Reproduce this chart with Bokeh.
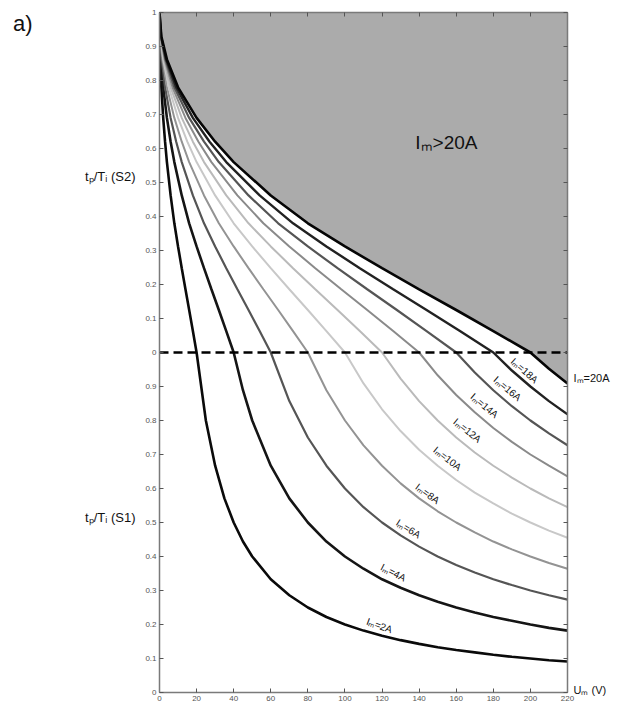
from bokeh.plotting import figure
from bokeh.models import Range1d, LinearAxis, FixedTicker, Label, ColumnDataSource
from bokeh.core.properties import value
from bokeh.embed import file_html
from bokeh.resources import INLINE

# ---------------- data ----------------
# combined y scale: 0..1 = tp/Ti (S1), 1..2 = tp/Ti (S2) shifted by 1
currents = ["2A", "4A", "6A", "8A", "10A", "12A", "14A", "16A", "18A", "20A"]

x_2A = [0, 0.1, 0.4, 1, 2, 3, 4, 6, 8, 10, 12, 14, 16, 18, 20,
        25, 30, 35, 40, 45, 50, 60, 70, 80, 90, 100, 110, 120, 130, 140, 150, 160, 170, 180,
        190, 200, 210, 220]
y_2A = [2.0, 1.929, 1.862, 1.78, 1.69, 1.62, 1.56, 1.462, 1.38, 1.312, 1.248, 1.186, 1.125, 1.063, 1.0,
        0.8, 0.667, 0.571, 0.5, 0.444, 0.4, 0.333, 0.286, 0.25, 0.222, 0.2, 0.182, 0.167, 0.154,
        0.143, 0.133, 0.125, 0.118, 0.111, 0.105, 0.1, 0.095, 0.091]

x_4A = [0, 0.2, 0.8, 2, 4, 6, 8, 12, 16, 20, 24, 28, 32, 36, 40,
        45, 50, 60, 70, 80, 90, 100, 110, 120, 130, 140, 150, 160, 170, 180, 190, 200, 210, 220]
y_4A = [2.0, 1.929, 1.862, 1.78, 1.69, 1.62, 1.56, 1.462, 1.38, 1.312, 1.248, 1.186, 1.125, 1.063, 1.0,
        0.889, 0.8, 0.667, 0.571, 0.5, 0.444, 0.4, 0.364, 0.333, 0.308, 0.286, 0.267, 0.25, 0.235,
        0.222, 0.211, 0.2, 0.19, 0.182]

x_6A = [0, 0.3, 1.2, 3, 6, 9, 12, 18, 24, 30, 36, 42, 48, 54, 60,
        70, 80, 90, 100, 110, 120, 130, 140, 150, 160, 170, 180, 190, 200, 210, 220]
y_6A = [2.0, 1.929, 1.862, 1.78, 1.69, 1.62, 1.56, 1.462, 1.38, 1.312, 1.248, 1.186, 1.125, 1.063, 1.0,
        0.857, 0.75, 0.667, 0.6, 0.545, 0.5, 0.462, 0.429, 0.4, 0.375, 0.353, 0.333, 0.316, 0.3,
        0.286, 0.273]

x_8A = [0, 0.4, 1.6, 4, 8, 12, 16, 24, 32, 40, 48, 56, 64, 72, 80,
        90, 100, 110, 120, 130, 140, 150, 160, 170, 180, 190, 200, 210, 220]
y_8A = [2.0, 1.929, 1.862, 1.78, 1.69, 1.62, 1.56, 1.462, 1.38, 1.312, 1.248, 1.186, 1.125, 1.063, 1.0,
        0.889, 0.8, 0.727, 0.667, 0.615, 0.571, 0.533, 0.5, 0.471, 0.444, 0.421, 0.4, 0.381, 0.364]

x_10A = [0, 0.5, 2, 5, 10, 15, 20, 30, 40, 50, 60, 70, 80, 90, 100,
         110, 120, 130, 140, 150, 160, 170, 180, 190, 200, 210, 220]
y_10A = [2.0, 1.929, 1.862, 1.78, 1.69, 1.62, 1.56, 1.462, 1.38, 1.312, 1.248, 1.186, 1.125, 1.063, 1.0,
         0.909, 0.833, 0.769, 0.714, 0.667, 0.625, 0.588, 0.556, 0.526, 0.5, 0.476, 0.455]

x_12A = [0, 0.6, 2.4, 6, 12, 18, 24, 36, 48, 60, 72, 84, 96, 108, 120,
         130, 140, 150, 160, 170, 180, 190, 200, 210, 220]
y_12A = [2.0, 1.929, 1.862, 1.78, 1.69, 1.62, 1.56, 1.462, 1.38, 1.312, 1.248, 1.186, 1.125, 1.063, 1.0,
         0.923, 0.857, 0.8, 0.75, 0.706, 0.667, 0.632, 0.6, 0.571, 0.545]

x_14A = [0, 0.7, 2.8, 7, 14, 21, 28, 42, 56, 70, 84, 98, 112, 126, 140,
         150, 160, 170, 180, 190, 200, 210, 220]
y_14A = [2.0, 1.929, 1.862, 1.78, 1.69, 1.62, 1.56, 1.462, 1.38, 1.312, 1.248, 1.186, 1.125, 1.063, 1.0,
         0.933, 0.875, 0.824, 0.778, 0.737, 0.7, 0.667, 0.636]

x_16A = [0, 0.8, 3.2, 8, 16, 24, 32, 48, 64, 80, 96, 112, 128, 144, 160,
         170, 180, 190, 200, 210, 220]
y_16A = [2.0, 1.929, 1.862, 1.78, 1.69, 1.62, 1.56, 1.462, 1.38, 1.312, 1.248, 1.186, 1.125, 1.063, 1.0,
         0.941, 0.889, 0.842, 0.8, 0.762, 0.727]

x_18A = [0, 0.9, 3.6, 9, 18, 27, 36, 54, 72, 90, 108, 126, 144, 162, 180,
         190, 200, 210, 220]
y_18A = [2.0, 1.929, 1.862, 1.78, 1.69, 1.62, 1.56, 1.462, 1.38, 1.312, 1.248, 1.186, 1.125, 1.063, 1.0,
         0.947, 0.9, 0.857, 0.818]

x_20A = [0, 1, 4, 10, 20, 30, 40, 60, 80, 100, 120, 140, 160, 180, 200,
         210, 220]
y_20A = [2.0, 1.929, 1.862, 1.78, 1.69, 1.62, 1.56, 1.462, 1.38, 1.312, 1.248, 1.186, 1.125, 1.063, 1.0,
         0.952, 0.909]

x_ticks = [0, 20, 40, 60, 80, 100, 120, 140, 160, 180, 200, 220]
y_tick_values = [0.0, 0.1, 0.2, 0.3, 0.4, 0.5, 0.6, 0.7, 0.8, 0.9, 1.0,
                 1.1, 1.2, 1.3, 1.4, 1.5, 1.6, 1.7, 1.8, 1.9, 2.0]
y_tick_labels = ["0", "0.1", "0.2", "0.3", "0.4", "0.5", "0.6", "0.7", "0.8", "0.9", "0",
                 "0.1", "0.2", "0.3", "0.4", "0.5", "0.6", "0.7", "0.8", "0.9", "1"]

u_min, u_max = 0, 220
y_min, y_max = 0, 2.0
boundary_level = 1.0   # S1 / S2 separation

# curve labels
lab_text = ["Iₘ=2A", "Iₘ=4A", "Iₘ=6A", "Iₘ=8A", "Iₘ=10A", "Iₘ=12A", "Iₘ=14A", "Iₘ=16A", "Iₘ=18A"]
lab_x = [118.6, 126.1, 134.2, 144.5, 155.3, 166.0, 175.2, 187.6, 196.8]
lab_y = [0.197, 0.353, 0.482, 0.585, 0.688, 0.771, 0.844, 0.894, 0.947]
lab_angle = [-20, -27, -32, -36, -38, -39, -40, -40, -41]

# texts outside the plotting frame, placed as single-tick axis labels
side_left_pos = [1.518, 0.515]
side_left_text = ["tₚ/Tᵢ (S2)", "tₚ/Tᵢ (S1)"]
panel_pos = [1.968]
panel_text = ["a)"]
side_right_pos = [0.924, 0.006]
side_right_text = ["Iₘ=20A", "Uₘ (V)"]

# ---------------- styling ----------------
curve_x = [x_2A, x_4A, x_6A, x_8A, x_10A, x_12A, x_14A, x_16A, x_18A, x_20A]
curve_y = [y_2A, y_4A, y_6A, y_8A, y_10A, y_12A, y_14A, y_16A, y_18A, y_20A]
colors = ["#0a0a0a", "#151515", "#555555", "#939393", "#c8c8c8", "#bababa", "#8a8a8a",
          "#555555", "#222222", "#050505"]
widths = [2.6, 2.6, 2.2, 2.0, 2.0, 2.0, 2.0, 2.2, 2.4, 2.6]

FONT = "Liberation Sans"

p = figure(width=622, height=707, x_range=Range1d(u_min, u_max), y_range=Range1d(y_min, y_max),
           output_backend="svg", toolbar_location=None, title=None,
           min_border_left=159, min_border_right=55, min_border_top=12, min_border_bottom=15)
p.xgrid.visible = False
p.ygrid.visible = False
p.outline_line_color = None
p.background_fill_color = "white"
p.border_fill_color = "white"

# shaded region Im > 20A
p.patch(x_20A + [u_max, u_min], y_20A + [y_max, y_max], fill_color="#ababab",
        line_color=None)

for xs, ys, c, w in zip(curve_x, curve_y, colors, widths):
    p.line(xs, ys, line_color=c, line_width=w)

p.line([u_min, u_max], [boundary_level, boundary_level], line_color="black", line_width=2.5,
       line_dash="9 5")

src = ColumnDataSource(dict(x=lab_x, y=lab_y, text=lab_text, angle=lab_angle))
p.text(x="x", y="y", text="text", angle="angle", angle_units="deg", source=src,
       text_align="center", text_baseline="middle", text_font=value(FONT),
       text_font_size="10px", text_color="#111111")

p.add_layout(Label(x=154.7, y=1.618, text="Iₘ>20A", text_font=FONT, text_font_size="19px",
                   text_align="center", text_baseline="middle", text_color="#111111"))

# ---------------- axes ----------------
AX = "#7a7a7a"

def base_axis(ax):
    ax.major_tick_in = 4
    ax.major_tick_out = 0
    ax.minor_tick_line_color = None
    ax.axis_line_color = AX
    ax.axis_line_width = 1.5
    ax.major_tick_line_color = "#555555"
    ax.major_label_text_font = FONT
    ax.major_label_text_color = "#555555"
    ax.major_label_text_font_size = "8px"
    ax.major_label_standoff = 3

xa = p.xaxis[0]
xa.ticker = FixedTicker(ticks=x_ticks)
base_axis(xa)
ya = p.yaxis[0]
ya.ticker = FixedTicker(ticks=y_tick_values)
ya.major_label_overrides = dict(zip(y_tick_values, y_tick_labels))
base_axis(ya)

def text_axis(positions, texts, size, standoff, minor=None):
    ax = LinearAxis(ticker=FixedTicker(ticks=positions, minor_ticks=minor or []))
    ax.major_label_overrides = dict(zip(positions, texts))
    ax.major_tick_line_color = None
    ax.major_tick_in = 0
    ax.major_tick_out = 0
    ax.major_label_text_font = FONT
    ax.major_label_text_font_size = size
    ax.major_label_text_color = "#111111"
    ax.major_label_standoff = standoff
    if minor:
        ax.axis_line_color = AX
        ax.axis_line_width = 1.5
        ax.minor_tick_in = 4
        ax.minor_tick_out = 0
        ax.minor_tick_line_color = "#555555"
    else:
        ax.axis_line_color = None
        ax.minor_tick_line_color = None
    return ax

# top box edge with inward ticks, no labels
top = LinearAxis(ticker=FixedTicker(ticks=[], minor_ticks=x_ticks))
top.axis_line_color = AX
top.axis_line_width = 1.5
top.minor_tick_in = 4
top.minor_tick_out = 0
top.minor_tick_line_color = "#555555"
top.major_label_standoff = 0
p.add_layout(top, "above")

# right box edge with inward ticks + the two right-hand texts
right = text_axis(side_right_pos, side_right_text, "11px", 6, minor=y_tick_values)
p.add_layout(right, "right")

# left texts
p.add_layout(text_axis(side_left_pos, side_left_text, "13px", 7), "left")
p.add_layout(text_axis(panel_pos, panel_text, "22px", 50), "left")

open("out.html", "w").write(file_html(p, INLINE))
